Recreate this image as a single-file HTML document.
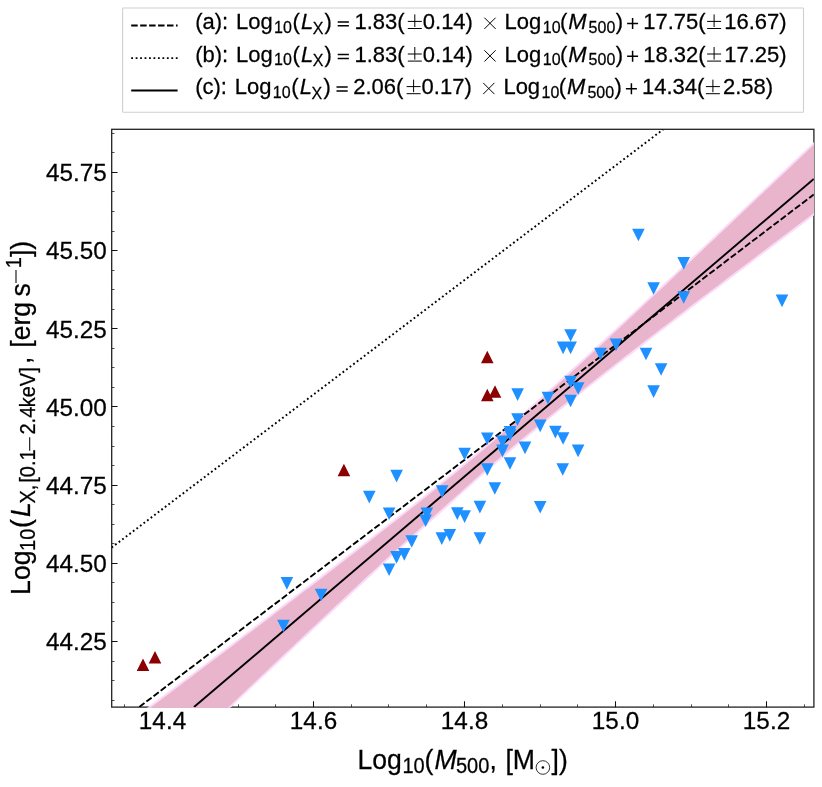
<!DOCTYPE html>
<html><head><meta charset="utf-8"><title>Lx-M500</title>
<style>
html,body{margin:0;padding:0;background:#fff;}
body{width:822px;height:787px;overflow:hidden;}
svg{display:block;will-change:transform;}
text{font-family:"Liberation Sans",sans-serif;fill:#000;stroke:#000;stroke-width:0.25px;}
</style></head><body>
<svg width="822" height="787" viewBox="0 0 822 787">
<defs><clipPath id="ax"><rect x="111.7" y="129.3" width="702.20" height="577.85"/></clipPath><clipPath id="axb"><rect x="111.7" y="129.3" width="702.30" height="578.55"/></clipPath></defs>
<rect width="822" height="787" fill="#fff"/>
<!-- frame -->
<rect x="111.7" y="129.3" width="702.2" height="577.8" fill="none" stroke="#222" stroke-width="1.3"/>
<path d="M162.50,707.15V701.35M313.50,707.15V701.35M464.50,707.15V701.35M615.50,707.15V701.35M766.50,707.15V701.35M111.7,641.50H117.50M111.7,563.50H117.50M111.7,485.50H117.50M111.7,406.50H117.50M111.7,328.50H117.50M111.7,250.50H117.50M111.7,172.50H117.50" stroke="#111" stroke-width="1.05" fill="none"/>
<path d="M124.50,707.15V704.35M200.50,707.15V704.35M238.50,707.15V704.35M275.50,707.15V704.35M351.50,707.15V704.35M388.50,707.15V704.35M426.50,707.15V704.35M502.50,707.15V704.35M540.50,707.15V704.35M577.50,707.15V704.35M653.50,707.15V704.35M691.50,707.15V704.35M728.50,707.15V704.35M804.50,707.15V704.35M111.7,700.50H114.50M111.7,680.50H114.50M111.7,661.50H114.50M111.7,621.50H114.50M111.7,602.50H114.50M111.7,582.50H114.50M111.7,543.50H114.50M111.7,524.50H114.50M111.7,504.50H114.50M111.7,465.50H114.50M111.7,446.50H114.50M111.7,426.50H114.50M111.7,387.50H114.50M111.7,367.50H114.50M111.7,348.50H114.50M111.7,309.50H114.50M111.7,289.50H114.50M111.7,270.50H114.50M111.7,231.50H114.50M111.7,211.50H114.50M111.7,191.50H114.50M111.7,152.50H114.50M111.7,133.50H114.50" stroke="#222" stroke-width="0.8" fill="none"/>
<g clip-path="url(#axb)">
<polygon points="100.0,744.6 105.0,740.8 110.0,737.1 115.0,733.3 120.0,729.6 125.0,725.8 130.0,722.0 135.0,718.3 140.0,714.5 145.0,710.8 150.0,707.0 155.0,703.2 160.0,699.5 165.0,695.7 170.0,691.9 175.0,688.2 180.0,684.4 185.0,680.6 190.0,676.9 195.0,673.1 200.0,669.3 205.0,665.6 210.0,661.8 215.0,658.0 220.0,654.2 225.0,650.5 230.0,646.7 235.0,642.9 240.0,639.1 245.0,635.3 250.0,631.6 255.0,627.8 260.0,624.0 265.0,620.2 270.0,616.4 275.0,612.6 280.0,608.8 285.0,605.0 290.0,601.2 295.0,597.4 300.0,593.6 305.0,589.8 310.0,586.0 315.0,582.2 320.0,578.4 325.0,574.5 330.0,570.7 335.0,566.9 340.0,563.0 345.0,559.2 350.0,555.3 355.0,551.5 360.0,547.6 365.0,543.8 370.0,539.9 375.0,536.0 380.0,532.1 385.0,528.2 390.0,524.3 395.0,520.4 400.0,516.5 405.0,512.6 410.0,508.6 415.0,504.7 420.0,500.7 425.0,496.7 430.0,492.7 435.0,488.7 440.0,484.6 445.0,480.6 450.0,476.5 455.0,472.4 460.0,468.3 465.0,464.2 470.0,460.0 475.0,455.9 480.0,451.7 485.0,447.5 490.0,443.2 495.0,438.9 500.0,434.7 505.0,430.3 510.0,426.0 515.0,421.7 520.0,417.3 525.0,412.9 530.0,408.5 535.0,404.0 540.0,399.6 545.0,395.1 550.0,390.6 555.0,386.1 560.0,381.6 565.0,377.0 570.0,372.5 575.0,367.9 580.0,363.4 585.0,358.8 590.0,354.2 595.0,349.6 600.0,345.0 605.0,340.4 610.0,335.7 615.0,331.1 620.0,326.4 625.0,321.8 630.0,317.1 635.0,312.5 640.0,307.8 645.0,303.1 650.0,298.5 655.0,293.8 660.0,289.1 665.0,284.4 670.0,279.7 675.0,275.0 680.0,270.3 685.0,265.6 690.0,260.9 695.0,256.2 700.0,251.5 705.0,246.8 710.0,242.1 715.0,237.4 720.0,232.6 725.0,227.9 730.0,223.2 735.0,218.5 740.0,213.8 745.0,209.0 750.0,204.3 755.0,199.6 760.0,194.8 765.0,190.1 770.0,185.4 775.0,180.6 780.0,175.9 785.0,171.2 790.0,166.4 795.0,161.7 800.0,156.9 805.0,152.2 810.0,147.5 815.0,142.7 820.0,138.0 825.0,133.2 825.0,205.7 820.0,209.5 815.0,213.3 810.0,217.0 805.0,220.8 800.0,224.5 795.0,228.3 790.0,232.0 785.0,235.8 780.0,239.6 775.0,243.3 770.0,247.1 765.0,250.9 760.0,254.6 755.0,258.4 750.0,262.2 745.0,266.0 740.0,269.7 735.0,273.5 730.0,277.3 725.0,281.1 720.0,284.9 715.0,288.7 710.0,292.4 705.0,296.2 700.0,300.0 695.0,303.8 690.0,307.6 685.0,311.5 680.0,315.3 675.0,319.1 670.0,322.9 665.0,326.7 660.0,330.6 655.0,334.4 650.0,338.2 645.0,342.1 640.0,346.0 635.0,349.8 630.0,353.7 625.0,357.6 620.0,361.4 615.0,365.3 610.0,369.2 605.0,373.1 600.0,377.1 595.0,381.0 590.0,384.9 585.0,388.9 580.0,392.9 575.0,396.8 570.0,400.8 565.0,404.8 560.0,408.8 555.0,412.9 550.0,416.9 545.0,421.0 540.0,425.1 535.0,429.2 530.0,433.3 525.0,437.5 520.0,441.6 515.0,445.8 510.0,450.0 505.0,454.3 500.0,458.5 495.0,462.8 490.0,467.1 485.0,471.4 480.0,475.8 475.0,480.2 470.0,484.7 465.0,489.2 460.0,493.7 455.0,498.2 450.0,502.8 445.0,507.3 440.0,511.8 435.0,516.3 430.0,520.7 425.0,525.1 420.0,529.6 415.0,534.0 410.0,538.5 405.0,542.9 400.0,547.4 395.0,552.0 390.0,556.5 385.0,561.1 380.0,565.7 375.0,570.4 370.0,575.0 365.0,579.6 360.0,584.3 355.0,588.9 350.0,593.6 345.0,598.3 340.0,602.9 335.0,607.6 330.0,612.3 325.0,617.0 320.0,621.7 315.0,626.4 310.0,631.1 305.0,635.8 300.0,640.5 295.0,645.2 290.0,649.9 285.0,654.6 280.0,659.3 275.0,664.1 270.0,668.8 265.0,673.5 260.0,678.2 255.0,683.0 250.0,687.7 245.0,692.4 240.0,697.2 235.0,701.9 230.0,706.7 225.0,711.4 220.0,716.1 215.0,720.9 210.0,725.6 205.0,730.4 200.0,735.1 195.0,739.9 190.0,744.6 185.0,749.4 180.0,754.1 175.0,758.9 170.0,763.7 165.0,768.4 160.0,773.2 155.0,777.9 150.0,782.7 145.0,787.5 140.0,792.2 135.0,797.0 130.0,801.8 125.0,806.5 120.0,811.3 115.0,816.0 110.0,820.8 105.0,825.6 100.0,830.4" fill="#fbdaf9" stroke="#fbdaf9" stroke-width="2.4" stroke-linejoin="round"/>
<polygon points="100.0,745.6 105.0,741.8 110.0,738.1 115.0,734.3 120.0,730.6 125.0,726.8 130.0,723.0 135.0,719.3 140.0,715.5 145.0,711.8 150.0,708.0 155.0,704.2 160.0,700.5 165.0,696.7 170.0,692.9 175.0,689.2 180.0,685.4 185.0,681.6 190.0,677.9 195.0,674.1 200.0,670.3 205.0,666.6 210.0,662.8 215.0,659.0 220.0,655.2 225.0,651.5 230.0,647.7 235.0,643.9 240.0,640.1 245.0,636.3 250.0,632.6 255.0,628.8 260.0,625.0 265.0,621.2 270.0,617.4 275.0,613.6 280.0,609.8 285.0,606.0 290.0,602.2 295.0,598.4 300.0,594.6 305.0,590.8 310.0,587.0 315.0,583.2 320.0,579.4 325.0,575.5 330.0,571.7 335.0,567.9 340.0,564.0 345.0,560.2 350.0,556.3 355.0,552.5 360.0,548.6 365.0,544.8 370.0,540.9 375.0,537.0 380.0,533.1 385.0,529.2 390.0,525.3 395.0,521.4 400.0,517.5 405.0,513.6 410.0,509.6 415.0,505.7 420.0,501.7 425.0,497.7 430.0,493.7 435.0,489.7 440.0,485.6 445.0,481.6 450.0,477.5 455.0,473.4 460.0,469.3 465.0,465.2 470.0,461.0 475.0,456.9 480.0,452.7 485.0,448.5 490.0,444.2 495.0,439.9 500.0,435.7 505.0,431.3 510.0,427.0 515.0,422.7 520.0,418.3 525.0,413.9 530.0,409.5 535.0,405.0 540.0,400.6 545.0,396.1 550.0,391.6 555.0,387.1 560.0,382.6 565.0,378.0 570.0,373.5 575.0,368.9 580.0,364.4 585.0,359.8 590.0,355.2 595.0,350.6 600.0,346.0 605.0,341.4 610.0,336.7 615.0,332.1 620.0,327.4 625.0,322.8 630.0,318.1 635.0,313.5 640.0,308.8 645.0,304.1 650.0,299.5 655.0,294.8 660.0,290.1 665.0,285.4 670.0,280.7 675.0,276.0 680.0,271.3 685.0,266.6 690.0,261.9 695.0,257.2 700.0,252.5 705.0,247.8 710.0,243.1 715.0,238.4 720.0,233.6 725.0,228.9 730.0,224.2 735.0,219.5 740.0,214.8 745.0,210.0 750.0,205.3 755.0,200.6 760.0,195.8 765.0,191.1 770.0,186.4 775.0,181.6 780.0,176.9 785.0,172.2 790.0,167.4 795.0,162.7 800.0,157.9 805.0,153.2 810.0,148.5 815.0,143.7 820.0,139.0 825.0,134.2 825.0,204.7 820.0,208.5 815.0,212.3 810.0,216.0 805.0,219.8 800.0,223.5 795.0,227.3 790.0,231.0 785.0,234.8 780.0,238.6 775.0,242.3 770.0,246.1 765.0,249.9 760.0,253.6 755.0,257.4 750.0,261.2 745.0,265.0 740.0,268.7 735.0,272.5 730.0,276.3 725.0,280.1 720.0,283.9 715.0,287.7 710.0,291.4 705.0,295.2 700.0,299.0 695.0,302.8 690.0,306.6 685.0,310.5 680.0,314.3 675.0,318.1 670.0,321.9 665.0,325.7 660.0,329.6 655.0,333.4 650.0,337.2 645.0,341.1 640.0,345.0 635.0,348.8 630.0,352.7 625.0,356.6 620.0,360.4 615.0,364.3 610.0,368.2 605.0,372.1 600.0,376.1 595.0,380.0 590.0,383.9 585.0,387.9 580.0,391.9 575.0,395.8 570.0,399.8 565.0,403.8 560.0,407.8 555.0,411.9 550.0,415.9 545.0,420.0 540.0,424.1 535.0,428.2 530.0,432.3 525.0,436.5 520.0,440.6 515.0,444.8 510.0,449.0 505.0,453.3 500.0,457.5 495.0,461.8 490.0,466.1 485.0,470.4 480.0,474.8 475.0,479.2 470.0,483.7 465.0,488.2 460.0,492.7 455.0,497.2 450.0,501.8 445.0,506.3 440.0,510.8 435.0,515.3 430.0,519.7 425.0,524.1 420.0,528.6 415.0,533.0 410.0,537.5 405.0,541.9 400.0,546.4 395.0,551.0 390.0,555.5 385.0,560.1 380.0,564.7 375.0,569.4 370.0,574.0 365.0,578.6 360.0,583.3 355.0,587.9 350.0,592.6 345.0,597.3 340.0,601.9 335.0,606.6 330.0,611.3 325.0,616.0 320.0,620.7 315.0,625.4 310.0,630.1 305.0,634.8 300.0,639.5 295.0,644.2 290.0,648.9 285.0,653.6 280.0,658.3 275.0,663.1 270.0,667.8 265.0,672.5 260.0,677.2 255.0,682.0 250.0,686.7 245.0,691.4 240.0,696.2 235.0,700.9 230.0,705.7 225.0,710.4 220.0,715.1 215.0,719.9 210.0,724.6 205.0,729.4 200.0,734.1 195.0,738.9 190.0,743.6 185.0,748.4 180.0,753.1 175.0,757.9 170.0,762.7 165.0,767.4 160.0,772.2 155.0,776.9 150.0,781.7 145.0,786.5 140.0,791.2 135.0,796.0 130.0,800.8 125.0,805.5 120.0,810.3 115.0,815.0 110.0,819.8 105.0,824.6 100.0,829.4" fill="#e8b5cc"/>
</g>
<g clip-path="url(#ax)">
<line x1="139.3" y1="707.0" x2="813.8" y2="194.5" stroke="#000" stroke-width="1.9" stroke-dasharray="6.5 2.45"/>
<line x1="111.6" y1="547.6" x2="663.1" y2="129.5" stroke="#000" stroke-width="1.9" stroke-dasharray="1.8 2.66"/>
<line x1="194.0" y1="707.0" x2="813.8" y2="178.9" stroke="#000" stroke-width="1.9"/>
<path d="M280.60,577.05L293.20,577.05L286.90,589.65ZM277.10,619.75L289.70,619.75L283.40,632.35ZM314.80,588.65L327.40,588.65L321.10,601.25ZM382.80,563.45L395.40,563.45L389.10,576.05ZM390.20,551.05L402.80,551.05L396.50,563.65ZM398.00,548.05L410.60,548.05L404.30,560.65ZM405.40,535.25L418.00,535.25L411.70,547.85ZM363.00,490.85L375.60,490.85L369.30,503.45ZM390.30,469.85L402.90,469.85L396.60,482.45ZM382.80,507.45L395.40,507.45L389.10,520.05ZM420.60,507.45L433.20,507.45L426.90,520.05ZM419.30,514.45L431.90,514.45L425.60,527.05ZM435.80,485.35L448.40,485.35L442.10,497.95ZM458.30,447.75L470.90,447.75L464.60,460.35ZM481.00,463.25L493.60,463.25L487.30,475.85ZM488.50,482.15L501.10,482.15L494.80,494.75ZM473.60,500.85L486.20,500.85L479.90,513.45ZM451.00,507.35L463.60,507.35L457.30,519.95ZM458.30,510.35L470.90,510.35L464.60,522.95ZM443.50,529.05L456.10,529.05L449.80,541.65ZM435.50,532.35L448.10,532.35L441.80,544.95ZM473.60,532.15L486.20,532.15L479.90,544.75ZM481.00,432.45L493.60,432.45L487.30,445.05ZM564.30,329.15L576.90,329.15L570.60,341.75ZM556.80,341.55L569.40,341.55L563.10,354.15ZM564.30,341.55L576.90,341.55L570.60,354.15ZM594.20,347.65L606.80,347.65L600.50,360.25ZM609.70,338.45L622.30,338.45L616.00,351.05ZM564.30,375.85L576.90,375.85L570.60,388.45ZM571.90,382.15L584.50,382.15L578.20,394.75ZM564.30,394.75L576.90,394.75L570.60,407.35ZM541.60,391.75L554.20,391.75L547.90,404.35ZM511.30,388.35L523.90,388.35L517.60,400.95ZM511.20,413.35L523.80,413.35L517.50,425.95ZM503.80,425.95L516.40,425.95L510.10,438.55ZM503.80,428.65L516.40,428.65L510.10,441.25ZM496.20,435.45L508.80,435.45L502.50,448.05ZM496.20,444.55L508.80,444.55L502.50,457.15ZM533.90,419.55L546.50,419.55L540.20,432.15ZM549.10,425.85L561.70,425.85L555.40,438.45ZM556.80,432.15L569.40,432.15L563.10,444.75ZM571.80,444.55L584.40,444.55L578.10,457.15ZM518.70,441.55L531.30,441.55L525.00,454.15ZM503.70,457.25L516.30,457.25L510.00,469.85ZM556.40,463.15L569.00,463.15L562.70,475.75ZM533.90,500.95L546.50,500.95L540.20,513.55ZM632.10,228.75L644.70,228.75L638.40,241.35ZM677.40,257.05L690.00,257.05L683.70,269.65ZM647.30,282.15L659.90,282.15L653.60,294.75ZM677.40,291.15L690.00,291.15L683.70,303.75ZM639.70,347.65L652.30,347.65L646.00,360.25ZM654.80,363.25L667.40,363.25L661.10,375.85ZM775.70,294.55L788.30,294.55L782.00,307.15ZM647.30,385.35L659.90,385.35L653.60,397.95Z" fill="#1e90ff"/>
<path d="M136.70,671.05L149.30,671.05L143.00,658.45ZM148.70,663.55L161.30,663.55L155.00,650.95ZM337.60,476.25L350.20,476.25L343.90,463.65ZM481.00,363.25L493.60,363.25L487.30,350.65ZM481.00,401.25L493.60,401.25L487.30,388.65ZM488.70,397.85L501.30,397.85L495.00,385.25Z" fill="#8b0000"/>
</g>
<g font-size="24.3"><text transform="translate(162.50,729.00) scale(1,1.015)" text-anchor="middle">14.4</text><text transform="translate(313.50,729.00) scale(1,1.015)" text-anchor="middle">14.6</text><text transform="translate(464.50,729.00) scale(1,1.015)" text-anchor="middle">14.8</text><text transform="translate(615.50,729.00) scale(1,1.015)" text-anchor="middle">15.0</text><text transform="translate(766.50,729.00) scale(1,1.015)" text-anchor="middle">15.2</text><text transform="translate(106.80,650.40) scale(1,1.015)" text-anchor="end">44.25</text><text transform="translate(106.80,572.22) scale(1,1.015)" text-anchor="end">44.50</text><text transform="translate(106.80,494.03) scale(1,1.015)" text-anchor="end">44.75</text><text transform="translate(106.80,415.85) scale(1,1.015)" text-anchor="end">45.00</text><text transform="translate(106.80,337.67) scale(1,1.015)" text-anchor="end">45.25</text><text transform="translate(106.80,259.49) scale(1,1.015)" text-anchor="end">45.50</text><text transform="translate(106.80,181.30) scale(1,1.015)" text-anchor="end">45.75</text></g>
<!-- legend -->
<rect x="122.6" y="8" width="680.9" height="104.3" rx="0.8" ry="0.8" fill="#fff" stroke="#cfcfcf" stroke-width="1.1"/>
<line x1="131.2" y1="25.5" x2="177.6" y2="25.5" stroke="#000" stroke-width="1.9" stroke-dasharray="6.5 2.45"/>
<line x1="131.2" y1="58.1" x2="177.6" y2="58.1" stroke="#000" stroke-width="1.9" stroke-dasharray="1.8 2.66"/>
<line x1="131.2" y1="90.5" x2="177.6" y2="90.5" stroke="#000" stroke-width="1.9"/>
<g font-size="22.0"><text transform="translate(195.20,29.10) scale(1,1.04)">(a):</text><g><text transform="translate(236.00,29.10) scale(1,1.04)">Log</text><text transform="translate(274.00,32.50) scale(1,1.04)" font-size="16.0">10</text><text transform="translate(292.40,29.10) scale(1,1.04)">(</text><text transform="translate(301.00,29.10) scale(1,1.04)" font-style="italic">L</text><text transform="translate(312.80,33.50) scale(1,1.04)" font-size="16.0">X</text><text transform="translate(324.60,29.10) scale(1,1.04)">)</text><path d="M337.7,21.90h11.2M337.7,25.80h11.2" stroke="#000" stroke-width="1.5" fill="none"/><text transform="translate(354.40,29.10) scale(1,1.04)">1.83(</text><path d="M407.80,21.40h14M414.80,14.40v12.6M407.80,28.50h14" stroke="#000" stroke-width="1.0" fill="none"/><text transform="translate(422.80,29.10) scale(1,1.04)">0.14)</text><path d="M484.40,17.70l11.2,11.2M495.60,17.70l-11.2,11.2" stroke="#000" stroke-width="1.0" fill="none"/><text transform="translate(504.60,29.10) scale(1,1.04)">Log</text><text transform="translate(542.80,32.50) scale(1,1.04)" font-size="16.0">10</text><text transform="translate(559.90,29.10) scale(1,1.04)">(</text><text transform="translate(568.20,29.10) scale(1,1.04)" font-style="italic">M</text><text transform="translate(588.60,32.50) scale(1,1.04)" font-size="16.0">500</text><text transform="translate(615.80,29.10) scale(1,1.04)">)</text><path d="M627.1,23.60h11M632.6,18.10v11" stroke="#000" stroke-width="1.5" fill="none"/><text transform="translate(643.20,29.10) scale(1,1.04)">17.75(</text><path d="M707.10,21.40h14M714.10,14.40v12.6M707.10,28.50h14" stroke="#000" stroke-width="1.0" fill="none"/><text transform="translate(724.20,29.10) scale(1,1.04)">16.67)</text></g><text transform="translate(195.20,61.70) scale(1,1.04)">(b):</text><g><text transform="translate(236.00,61.70) scale(1,1.04)">Log</text><text transform="translate(274.00,65.10) scale(1,1.04)" font-size="16.0">10</text><text transform="translate(292.40,61.70) scale(1,1.04)">(</text><text transform="translate(301.00,61.70) scale(1,1.04)" font-style="italic">L</text><text transform="translate(312.80,66.10) scale(1,1.04)" font-size="16.0">X</text><text transform="translate(324.60,61.70) scale(1,1.04)">)</text><path d="M337.7,54.50h11.2M337.7,58.40h11.2" stroke="#000" stroke-width="1.5" fill="none"/><text transform="translate(354.40,61.70) scale(1,1.04)">1.83(</text><path d="M407.80,54.00h14M414.80,47.00v12.6M407.80,61.10h14" stroke="#000" stroke-width="1.0" fill="none"/><text transform="translate(422.80,61.70) scale(1,1.04)">0.14)</text><path d="M484.40,50.30l11.2,11.2M495.60,50.30l-11.2,11.2" stroke="#000" stroke-width="1.0" fill="none"/><text transform="translate(504.60,61.70) scale(1,1.04)">Log</text><text transform="translate(542.80,65.10) scale(1,1.04)" font-size="16.0">10</text><text transform="translate(559.90,61.70) scale(1,1.04)">(</text><text transform="translate(568.20,61.70) scale(1,1.04)" font-style="italic">M</text><text transform="translate(588.60,65.10) scale(1,1.04)" font-size="16.0">500</text><text transform="translate(615.80,61.70) scale(1,1.04)">)</text><path d="M627.1,56.20h11M632.6,50.70v11" stroke="#000" stroke-width="1.5" fill="none"/><text transform="translate(643.20,61.70) scale(1,1.04)">18.32(</text><path d="M707.10,54.00h14M714.10,47.00v12.6M707.10,61.10h14" stroke="#000" stroke-width="1.0" fill="none"/><text transform="translate(724.20,61.70) scale(1,1.04)">17.25)</text></g><text transform="translate(195.20,94.30) scale(1,1.04)">(c):</text><g transform="translate(-1.2,0)"><text transform="translate(236.00,94.30) scale(1,1.04)">Log</text><text transform="translate(274.00,97.70) scale(1,1.04)" font-size="16.0">10</text><text transform="translate(292.40,94.30) scale(1,1.04)">(</text><text transform="translate(301.00,94.30) scale(1,1.04)" font-style="italic">L</text><text transform="translate(312.80,98.70) scale(1,1.04)" font-size="16.0">X</text><text transform="translate(324.60,94.30) scale(1,1.04)">)</text><path d="M337.7,87.10h11.2M337.7,91.00h11.2" stroke="#000" stroke-width="1.5" fill="none"/><text transform="translate(354.40,94.30) scale(1,1.04)">2.06(</text><path d="M407.80,86.60h14M414.80,79.60v12.6M407.80,93.70h14" stroke="#000" stroke-width="1.0" fill="none"/><text transform="translate(422.80,94.30) scale(1,1.04)">0.17)</text><path d="M484.40,82.90l11.2,11.2M495.60,82.90l-11.2,11.2" stroke="#000" stroke-width="1.0" fill="none"/><text transform="translate(504.60,94.30) scale(1,1.04)">Log</text><text transform="translate(542.80,97.70) scale(1,1.04)" font-size="16.0">10</text><text transform="translate(559.90,94.30) scale(1,1.04)">(</text><text transform="translate(568.20,94.30) scale(1,1.04)" font-style="italic">M</text><text transform="translate(588.60,97.70) scale(1,1.04)" font-size="16.0">500</text><text transform="translate(615.80,94.30) scale(1,1.04)">)</text><path d="M627.1,88.80h11M632.6,83.30v11" stroke="#000" stroke-width="1.5" fill="none"/><text transform="translate(643.20,94.30) scale(1,1.04)">14.34(</text><path d="M707.10,86.60h14M714.10,79.60v12.6M707.10,93.70h14" stroke="#000" stroke-width="1.0" fill="none"/><text transform="translate(724.20,94.30) scale(1,1.04)">2.58)</text></g></g>
<!-- x label -->
<g font-size="26.6"><text transform="translate(357.40,768.60) scale(1,1.07)">Log</text><text transform="translate(402.40,772.60) scale(1,1.07)" font-size="20.0">10</text><text transform="translate(424.40,768.60) scale(1,1.07)">(</text><text transform="translate(434.40,768.60) scale(1,1.07)" font-style="italic">M</text><text transform="translate(456.00,772.60) scale(1,1.07)" font-size="20.0">500</text><text transform="translate(489.60,768.60) scale(1,1.07)">,</text><text transform="translate(505.40,768.60) scale(1,1.07)">[M</text><text transform="translate(551.60,768.60) scale(1,1.07)">])</text>
<circle cx="542.9" cy="767.5" r="6.8" stroke="#000" fill="none" stroke-width="0.8"/><circle cx="542.9" cy="767.5" r="1.3" fill="#000"/>
</g>
<!-- y label -->
<g transform="translate(30.2,593.7) rotate(-90)" font-size="26.6"><text transform="translate(-1.20,0.00) scale(1,1.07)">Log</text><text transform="translate(42.80,4.40) scale(1,1.07)" font-size="20.0">10</text><text transform="translate(65.60,0.00) scale(1,1.07)">(</text><text transform="translate(76.70,0.00) scale(1,1.07)" font-style="italic">L</text><text transform="translate(90.20,4.40) scale(1,1.07)" font-size="20.0">X,</text><text transform="translate(111.00,4.40) scale(1,1.07)" font-size="20.0">[0.1</text><path d="M143.0,-0.5H156.4" stroke="#000" stroke-width="1.05" fill="none"/><text transform="translate(159.20,4.40) scale(1,1.07)" font-size="20.0">2.4</text><text transform="translate(186.40,4.40) scale(1,1.07)" font-size="20.0">keV]</text><text transform="translate(229.60,0.00) scale(1,1.07)">,</text><text transform="translate(246.00,0.00) scale(1,1.07)">[erg</text><text transform="translate(297.20,0.00) scale(1,1.07)">s</text><path d="M310.8,-14.2H323.6" stroke="#000" stroke-width="1.05" fill="none"/><text transform="translate(325.40,-9.60) scale(1,1.07)" font-size="20.0">1</text><text transform="translate(336.60,0.00) scale(1,1.07)">])</text></g>
</svg>
</body></html>
